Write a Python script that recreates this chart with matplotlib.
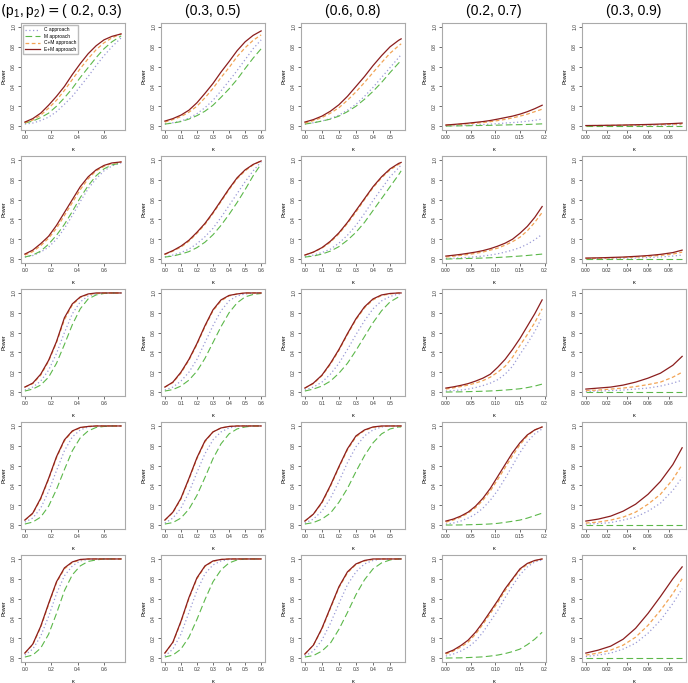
import numpy as np
import matplotlib.pyplot as plt

plt.rcParams["font.family"] = ["Liberation Sans", "DejaVu Sans"]

COL_TITLES = ["( 0.2, 0.3)", "(0.3, 0.5)", "(0.6, 0.8)", "(0.2, 0.7)", "(0.3, 0.9)"]
X_LIMITS = [0.73, 0.6, 0.565, 0.195, 0.093]
X_TICKS = [
    [0.0, 0.2, 0.4, 0.6],
    [0.0, 0.1, 0.2, 0.3, 0.4, 0.5, 0.6],
    [0.0, 0.1, 0.2, 0.3, 0.4, 0.5],
    [0.0, 0.05, 0.10, 0.15, 0.2],
    [0.0, 0.02, 0.04, 0.06, 0.08],
]
X_TICK_LABELS = [
    ["0.0", "0.2", "0.4", "0.6"],
    ["0.0", "0.1", "0.2", "0.3", "0.4", "0.5", "0.6"],
    ["0.0", "0.1", "0.2", "0.3", "0.4", "0.5"],
    ["0.00", "0.05", "0.10", "0.15", "0.2"],
    ["0.00", "0.02", "0.04", "0.06", "0.08"],
]

# x grid per column
X_VALUES = [
    [0, 0.06, 0.12, 0.18, 0.24, 0.30, 0.36, 0.42, 0.48, 0.54, 0.60, 0.66, 0.73],
    [0, 0.05, 0.10, 0.15, 0.20, 0.25, 0.30, 0.35, 0.40, 0.45, 0.50, 0.55, 0.60],
    [0, 0.05, 0.10, 0.15, 0.20, 0.25, 0.30, 0.35, 0.40, 0.45, 0.50, 0.55, 0.565],
    [0, 0.015, 0.03, 0.045, 0.06, 0.075, 0.09, 0.105, 0.12, 0.135, 0.15, 0.165, 0.18, 0.195],
    [0, 0.012, 0.024, 0.036, 0.048, 0.06, 0.072, 0.084, 0.093],
]

# power[row][col]
C_POWER = [
    [[0.02, 0.03, 0.055, 0.09, 0.145, 0.22, 0.30, 0.40, 0.50, 0.61, 0.71, 0.80, 0.89],
     [0.02, 0.033, 0.05, 0.08, 0.125, 0.185, 0.26, 0.355, 0.455, 0.56, 0.67, 0.78, 0.87],
     [0.02, 0.033, 0.05, 0.075, 0.11, 0.16, 0.22, 0.30, 0.39, 0.49, 0.59, 0.69, 0.72],
     [0.0, 0.003, 0.006, 0.009, 0.012, 0.015, 0.019, 0.024, 0.03, 0.035, 0.04, 0.049, 0.058, 0.07],
     [0.002, 0.003, 0.004, 0.005, 0.006, 0.008, 0.01, 0.012, 0.015]],
    [[0.02, 0.035, 0.07, 0.12, 0.20, 0.31, 0.44, 0.58, 0.71, 0.81, 0.89, 0.94, 0.97],
     [0.02, 0.04, 0.065, 0.10, 0.155, 0.225, 0.31, 0.42, 0.54, 0.66, 0.78, 0.89, 0.98],
     [0.02, 0.04, 0.065, 0.10, 0.16, 0.24, 0.34, 0.46, 0.59, 0.71, 0.83, 0.92, 0.95],
     [0.005, 0.008, 0.012, 0.017, 0.023, 0.03, 0.04, 0.053, 0.07, 0.09, 0.115, 0.15, 0.195, 0.25],
     [0.002, 0.004, 0.006, 0.008, 0.011, 0.015, 0.021, 0.03, 0.04]],
    [[0.02, 0.05, 0.11, 0.22, 0.39, 0.60, 0.79, 0.91, 0.97, 0.99, 1.0, 1.0, 1.0],
     [0.02, 0.05, 0.11, 0.20, 0.33, 0.50, 0.67, 0.82, 0.92, 0.97, 0.99, 1.0, 1.0],
     [0.02, 0.05, 0.10, 0.18, 0.29, 0.43, 0.58, 0.72, 0.84, 0.92, 0.965, 0.99, 0.99],
     [0.01, 0.015, 0.02, 0.03, 0.045, 0.065, 0.09, 0.125, 0.18, 0.26, 0.38, 0.49, 0.61, 0.76],
     [0.005, 0.01, 0.015, 0.02, 0.03, 0.04, 0.06, 0.09, 0.12]],
    [[0.03, 0.07, 0.17, 0.34, 0.55, 0.75, 0.89, 0.96, 0.99, 1.0, 1.0, 1.0, 1.0],
     [0.02, 0.07, 0.17, 0.33, 0.53, 0.72, 0.86, 0.94, 0.98, 0.995, 1.0, 1.0, 1.0],
     [0.02, 0.06, 0.14, 0.27, 0.44, 0.63, 0.79, 0.90, 0.96, 0.99, 1.0, 1.0, 1.0],
     [0.01, 0.02, 0.04, 0.07, 0.11, 0.17, 0.25, 0.35, 0.47, 0.60, 0.73, 0.84, 0.92, 0.97],
     [0.01, 0.015, 0.025, 0.05, 0.08, 0.14, 0.22, 0.35, 0.48]],
    [[0.03, 0.09, 0.22, 0.42, 0.65, 0.83, 0.93, 0.98, 0.995, 1.0, 1.0, 1.0, 1.0],
     [0.02, 0.09, 0.24, 0.46, 0.68, 0.85, 0.94, 0.98, 0.995, 1.0, 1.0, 1.0, 1.0],
     [0.02, 0.07, 0.18, 0.35, 0.55, 0.74, 0.87, 0.95, 0.985, 1.0, 1.0, 1.0, 1.0],
     [0.02, 0.04, 0.07, 0.11, 0.17, 0.26, 0.37, 0.48, 0.61, 0.73, 0.84, 0.92, 0.97, 0.99],
     [0.015, 0.03, 0.05, 0.09, 0.15, 0.25, 0.38, 0.55, 0.70]],
]

M_POWER = [
    [[0.03, 0.05, 0.085, 0.13, 0.20, 0.285, 0.38, 0.49, 0.59, 0.69, 0.78, 0.85, 0.91],
     [0.02, 0.03, 0.045, 0.07, 0.105, 0.15, 0.21, 0.29, 0.375, 0.47, 0.58, 0.685, 0.78],
     [0.02, 0.033, 0.05, 0.07, 0.10, 0.145, 0.20, 0.27, 0.35, 0.44, 0.54, 0.635, 0.66],
     [0.0, 0.001, 0.002, 0.003, 0.005, 0.006, 0.007, 0.009, 0.011, 0.013, 0.014, 0.016, 0.019, 0.022],
     [0.001, 0.001, 0.001, 0.001, 0.001, 0.001, 0.001, 0.001, 0.001]],
    [[0.02, 0.04, 0.08, 0.15, 0.24, 0.35, 0.48, 0.62, 0.74, 0.84, 0.91, 0.95, 0.97],
     [0.02, 0.03, 0.05, 0.075, 0.115, 0.17, 0.245, 0.34, 0.45, 0.57, 0.70, 0.84, 0.96],
     [0.02, 0.03, 0.05, 0.08, 0.125, 0.19, 0.27, 0.37, 0.49, 0.61, 0.73, 0.85, 0.89],
     [0.0, 0.002, 0.004, 0.006, 0.008, 0.01, 0.013, 0.016, 0.02, 0.025, 0.03, 0.036, 0.043, 0.05],
     [0.0, 0.0, 0.0, 0.0, 0.0, 0.0, 0.0, 0.0, 0.0]],
    [[0.01, 0.03, 0.07, 0.15, 0.29, 0.48, 0.68, 0.84, 0.94, 0.98, 0.995, 1.0, 1.0],
     [0.01, 0.025, 0.06, 0.12, 0.21, 0.34, 0.50, 0.66, 0.80, 0.90, 0.96, 0.985, 0.995],
     [0.01, 0.03, 0.06, 0.11, 0.19, 0.29, 0.42, 0.56, 0.70, 0.82, 0.91, 0.96, 0.97],
     [0.0, 0.001, 0.002, 0.004, 0.006, 0.008, 0.011, 0.015, 0.02, 0.026, 0.033, 0.045, 0.06, 0.08],
     [0.005, 0.005, 0.005, 0.005, 0.005, 0.005, 0.005, 0.005, 0.005]],
    [[0.01, 0.03, 0.08, 0.19, 0.36, 0.56, 0.75, 0.88, 0.95, 0.985, 0.995, 1.0, 1.0],
     [0.01, 0.025, 0.07, 0.16, 0.30, 0.48, 0.67, 0.82, 0.92, 0.97, 0.99, 1.0, 1.0],
     [0.01, 0.025, 0.06, 0.12, 0.23, 0.37, 0.54, 0.70, 0.83, 0.92, 0.97, 0.99, 0.99],
     [0.0, 0.0, 0.001, 0.003, 0.005, 0.007, 0.011, 0.017, 0.027, 0.038, 0.05, 0.07, 0.095, 0.12],
     [0.0, 0.0, 0.0, 0.0, 0.0, 0.0, 0.0, 0.0, 0.0]],
    [[0.01, 0.03, 0.10, 0.24, 0.45, 0.68, 0.84, 0.93, 0.975, 0.99, 1.0, 1.0, 1.0],
     [0.01, 0.03, 0.09, 0.21, 0.39, 0.59, 0.77, 0.89, 0.96, 0.99, 1.0, 1.0, 1.0],
     [0.01, 0.025, 0.07, 0.15, 0.29, 0.46, 0.64, 0.79, 0.90, 0.96, 0.99, 1.0, 1.0],
     [0.0, 0.001, 0.002, 0.005, 0.008, 0.012, 0.02, 0.03, 0.045, 0.065, 0.09, 0.135, 0.19, 0.26],
     [0.0, 0.0, 0.0, 0.0, 0.0, 0.0, 0.0, 0.0, 0.0]],
]

CM_POWER = [
    [[0.035, 0.06, 0.11, 0.18, 0.26, 0.36, 0.47, 0.58, 0.68, 0.77, 0.84, 0.89, 0.93],
     [0.04, 0.065, 0.095, 0.14, 0.20, 0.285, 0.38, 0.49, 0.59, 0.70, 0.79, 0.865, 0.92],
     [0.03, 0.055, 0.085, 0.13, 0.185, 0.26, 0.345, 0.44, 0.54, 0.64, 0.735, 0.81, 0.83],
     [0.01, 0.013, 0.018, 0.023, 0.029, 0.035, 0.044, 0.055, 0.067, 0.082, 0.10, 0.12, 0.145, 0.17],
     [0.004, 0.005, 0.006, 0.008, 0.01, 0.012, 0.015, 0.018, 0.022]],
    [[0.04, 0.075, 0.135, 0.21, 0.31, 0.44, 0.57, 0.70, 0.81, 0.89, 0.935, 0.965, 0.98],
     [0.045, 0.08, 0.12, 0.18, 0.26, 0.35, 0.46, 0.58, 0.70, 0.81, 0.89, 0.95, 0.99],
     [0.04, 0.07, 0.11, 0.17, 0.255, 0.36, 0.475, 0.60, 0.72, 0.82, 0.90, 0.955, 0.97],
     [0.02, 0.028, 0.037, 0.046, 0.057, 0.071, 0.09, 0.11, 0.14, 0.175, 0.22, 0.285, 0.37, 0.47],
     [0.005, 0.008, 0.011, 0.015, 0.02, 0.027, 0.037, 0.05, 0.07]],
    [[0.05, 0.085, 0.17, 0.31, 0.50, 0.73, 0.88, 0.955, 0.985, 0.995, 1.0, 1.0, 1.0],
     [0.05, 0.095, 0.19, 0.32, 0.48, 0.66, 0.82, 0.92, 0.97, 0.99, 1.0, 1.0, 1.0],
     [0.04, 0.085, 0.165, 0.28, 0.42, 0.58, 0.73, 0.85, 0.93, 0.975, 0.99, 1.0, 1.0],
     [0.03, 0.042, 0.055, 0.07, 0.09, 0.115, 0.15, 0.20, 0.26, 0.35, 0.47, 0.58, 0.70, 0.84],
     [0.015, 0.02, 0.03, 0.04, 0.055, 0.075, 0.10, 0.15, 0.20]],
    [[0.05, 0.115, 0.26, 0.46, 0.68, 0.85, 0.945, 0.98, 0.995, 1.0, 1.0, 1.0, 1.0],
     [0.05, 0.125, 0.26, 0.46, 0.67, 0.84, 0.94, 0.98, 0.995, 1.0, 1.0, 1.0, 1.0],
     [0.04, 0.11, 0.22, 0.39, 0.58, 0.76, 0.89, 0.955, 0.985, 0.995, 1.0, 1.0, 1.0],
     [0.03, 0.05, 0.08, 0.12, 0.175, 0.25, 0.345, 0.46, 0.58, 0.70, 0.81, 0.90, 0.96, 0.99],
     [0.02, 0.03, 0.05, 0.08, 0.13, 0.21, 0.31, 0.46, 0.61]],
    [[0.05, 0.135, 0.31, 0.54, 0.76, 0.90, 0.965, 0.99, 1.0, 1.0, 1.0, 1.0, 1.0],
     [0.05, 0.155, 0.36, 0.60, 0.80, 0.925, 0.975, 0.995, 1.0, 1.0, 1.0, 1.0, 1.0],
     [0.04, 0.13, 0.29, 0.50, 0.71, 0.86, 0.945, 0.98, 0.995, 1.0, 1.0, 1.0, 1.0],
     [0.04, 0.07, 0.11, 0.16, 0.24, 0.34, 0.45, 0.56, 0.68, 0.79, 0.89, 0.945, 0.98, 1.0],
     [0.03, 0.05, 0.08, 0.13, 0.21, 0.33, 0.48, 0.65, 0.80]],
]

EM_POWER = [
    [[0.04, 0.075, 0.13, 0.21, 0.30, 0.40, 0.52, 0.63, 0.73, 0.81, 0.87, 0.905, 0.93],
     [0.05, 0.075, 0.11, 0.16, 0.235, 0.33, 0.43, 0.545, 0.65, 0.76, 0.85, 0.915, 0.96],
     [0.04, 0.065, 0.10, 0.15, 0.215, 0.30, 0.40, 0.50, 0.61, 0.71, 0.80, 0.865, 0.88],
     [0.01, 0.016, 0.022, 0.029, 0.037, 0.045, 0.056, 0.07, 0.085, 0.10, 0.12, 0.145, 0.175, 0.21],
     [0.005, 0.006, 0.008, 0.01, 0.013, 0.016, 0.02, 0.025, 0.03]],
    [[0.05, 0.09, 0.155, 0.23, 0.34, 0.47, 0.60, 0.73, 0.83, 0.90, 0.945, 0.97, 0.98],
     [0.05, 0.085, 0.13, 0.19, 0.27, 0.36, 0.47, 0.59, 0.71, 0.82, 0.90, 0.955, 0.99],
     [0.04, 0.07, 0.115, 0.18, 0.265, 0.37, 0.49, 0.61, 0.73, 0.83, 0.91, 0.965, 0.975],
     [0.03, 0.038, 0.047, 0.058, 0.07, 0.085, 0.105, 0.13, 0.16, 0.20, 0.26, 0.33, 0.42, 0.53],
     [0.01, 0.012, 0.016, 0.02, 0.027, 0.035, 0.047, 0.065, 0.09]],
    [[0.05, 0.09, 0.18, 0.32, 0.51, 0.75, 0.89, 0.96, 0.99, 1.0, 1.0, 1.0, 1.0],
     [0.05, 0.10, 0.20, 0.33, 0.49, 0.67, 0.83, 0.93, 0.975, 0.99, 1.0, 1.0, 1.0],
     [0.04, 0.09, 0.17, 0.29, 0.43, 0.59, 0.74, 0.86, 0.94, 0.98, 0.995, 1.0, 1.0],
     [0.04, 0.052, 0.067, 0.085, 0.11, 0.14, 0.18, 0.25, 0.33, 0.43, 0.54, 0.665, 0.79, 0.93],
     [0.03, 0.04, 0.05, 0.07, 0.10, 0.14, 0.19, 0.27, 0.36]],
    [[0.05, 0.12, 0.27, 0.47, 0.69, 0.86, 0.95, 0.985, 0.995, 1.0, 1.0, 1.0, 1.0],
     [0.05, 0.13, 0.27, 0.47, 0.68, 0.85, 0.94, 0.98, 0.995, 1.0, 1.0, 1.0, 1.0],
     [0.04, 0.11, 0.23, 0.40, 0.59, 0.77, 0.90, 0.96, 0.99, 1.0, 1.0, 1.0, 1.0],
     [0.04, 0.06, 0.09, 0.13, 0.19, 0.27, 0.37, 0.49, 0.61, 0.73, 0.83, 0.91, 0.96, 0.99],
     [0.04, 0.06, 0.09, 0.14, 0.21, 0.31, 0.44, 0.61, 0.78]],
    [[0.05, 0.14, 0.32, 0.55, 0.77, 0.91, 0.97, 0.995, 1.0, 1.0, 1.0, 1.0, 1.0],
     [0.05, 0.16, 0.37, 0.61, 0.81, 0.93, 0.98, 0.995, 1.0, 1.0, 1.0, 1.0, 1.0],
     [0.04, 0.13, 0.30, 0.51, 0.72, 0.87, 0.95, 0.985, 1.0, 1.0, 1.0, 1.0, 1.0],
     [0.05, 0.08, 0.125, 0.18, 0.26, 0.36, 0.47, 0.58, 0.70, 0.80, 0.90, 0.955, 0.985, 1.0],
     [0.05, 0.08, 0.12, 0.19, 0.30, 0.45, 0.62, 0.80, 0.92]],
]

SERIES = [
    ("C approach", C_POWER, "#9a9ad6", (0, (1, 2)), 0.9),
    ("M approach", M_POWER, "#5cb84a", (0, (6, 3)), 0.8),
    ("C+M approach", CM_POWER, "#f2a455", (0, (3, 2)), 0.9),
    ("E+M approach", EM_POWER, "#8b1e1e", "-", 0.9),
]

W, H = 688, 683
COL_LEFT = [21, 161, 301, 442, 582]
ROW_TOP = [23, 156, 289, 422, 555]
AX_W, AX_H = 104, 107

fig = plt.figure(figsize=(W / 100, H / 100), dpi=100)

for r in range(5):
    for c in range(5):
        ax = fig.add_axes([COL_LEFT[c] / W, 1 - (ROW_TOP[r] + AX_H) / H, AX_W / W, AX_H / H])
        x = np.array(X_VALUES[c])
        for label, data, color, ls, lw in SERIES:
            ax.plot(x, data[r][c], color=color, linestyle=ls, linewidth=lw, label=label)
        pad = X_LIMITS[c] * 0.04
        ax.set_xlim(-pad, X_LIMITS[c] + pad)
        ax.set_ylim(-0.04, 1.04)
        ax.set_xticks(X_TICKS[c])
        ax.set_xticklabels(X_TICK_LABELS[c])
        ax.set_yticks([0, 0.2, 0.4, 0.6, 0.8, 1.0])
        ax.set_yticklabels(["0.0", "0.2", "0.4", "0.6", "0.8", "1.0"], rotation=90, va="center")
        ax.tick_params(labelsize=3.5, length=2, width=0.5, pad=1.5, colors="#333333")
        for sp in ax.spines.values():
            sp.set_color("#aaaaaa")
            sp.set_linewidth(0.8)
        ax.set_ylabel("Power", fontsize=4, labelpad=3)
        ax.set_xlabel("κ", fontsize=4, labelpad=5)
        if r == 0 and c == 0:
            ax.legend(loc="upper left", fontsize=3.5, handlelength=3, frameon=True,
                      fancybox=False, edgecolor="#aaaaaa", borderpad=0.4, labelspacing=0.3)

fig.text(61 / W, 1 - 11 / H, r"$(\mathregular{p_1, p_2}) = $" + COL_TITLES[0],
         ha="center", va="center", fontsize=10)
for c in range(1, 5):
    fig.text((COL_LEFT[c] + AX_W / 2) / W, 1 - 11 / H, COL_TITLES[c],
             ha="center", va="center", fontsize=10)

fig.savefig("out.png", dpi=100)
